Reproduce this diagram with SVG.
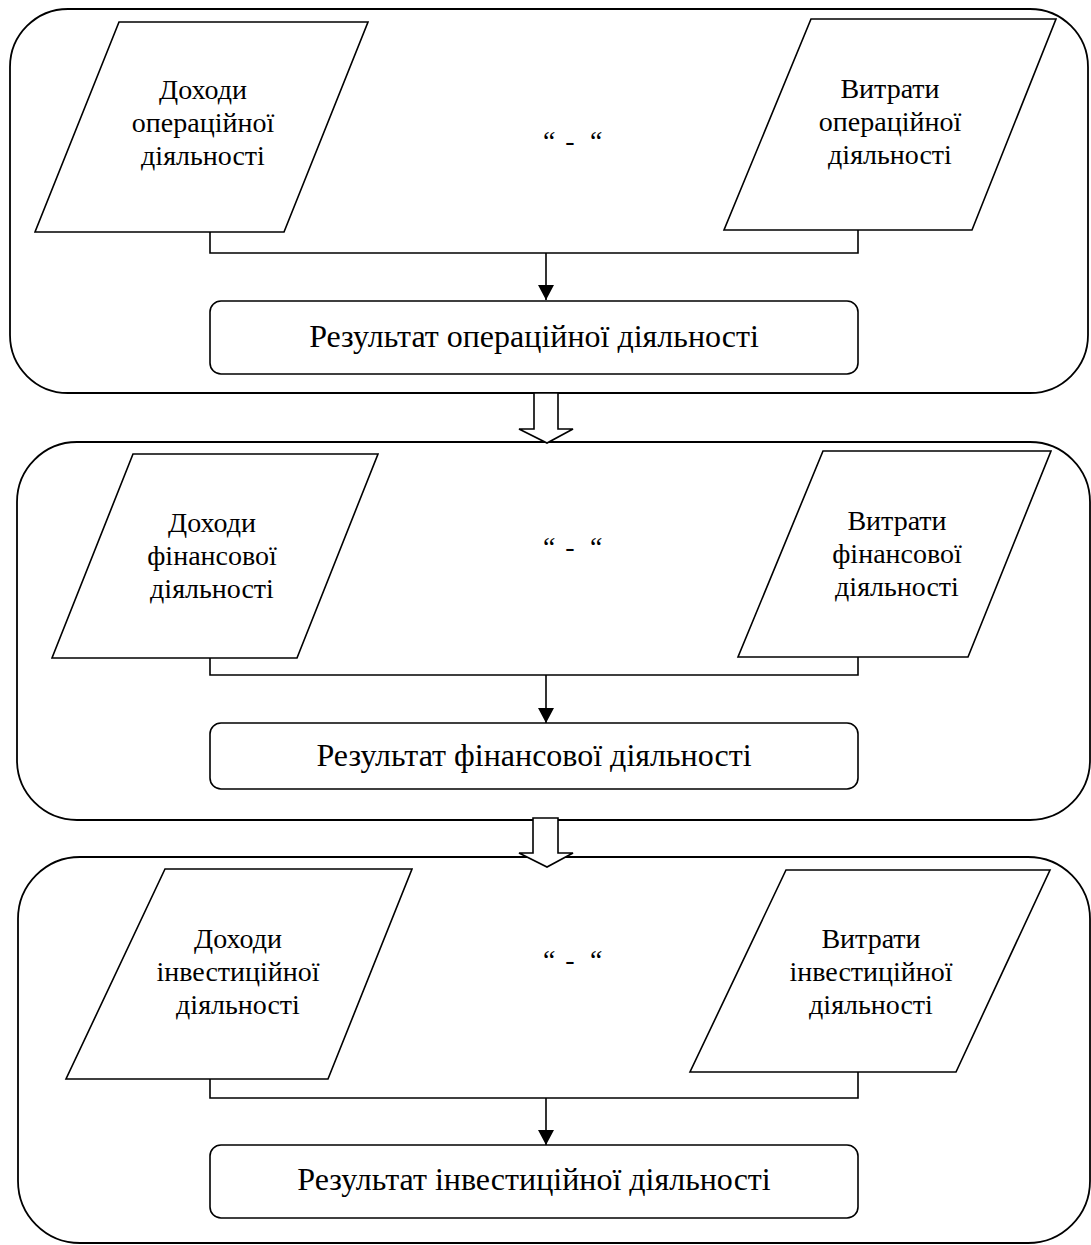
<svg xmlns="http://www.w3.org/2000/svg" width="1091" height="1245" viewBox="0 0 1091 1245">
<defs>
<style>
.cont{fill:none;stroke:#000;stroke-width:1.8}
.para{fill:#fff;stroke:#000;stroke-width:1.6}
.box{fill:#fff;stroke:#000;stroke-width:1.6}
.line{fill:none;stroke:#000;stroke-width:1.6}
.hollow{fill:#fff;stroke:#000;stroke-width:1.6;stroke-linejoin:miter}
.t{font-family:"Liberation Serif","Times New Roman",serif;font-size:28px;fill:#000;text-anchor:middle}
.tb{font-family:"Liberation Serif","Times New Roman",serif;font-size:32px;fill:#000;text-anchor:middle}
.q{font-family:"Liberation Serif","Times New Roman",serif;font-size:28px;font-style:italic;fill:#000;text-anchor:middle}
</style>
<marker id="ah" markerWidth="16" markerHeight="16" refX="15" refY="8" orient="auto" markerUnits="userSpaceOnUse">
<path d="M0,0 L15,8 L0,16 Z" fill="#000"/>
</marker>
</defs>
<rect width="1091" height="1245" fill="#fff"/>

<g id="section1">
<rect id="container1" class="cont" x="10" y="9" width="1078" height="384" rx="58" ry="58"/>
</g>
<g id="section2">
<rect id="container2" class="cont" x="17" y="442" width="1073" height="378" rx="60" ry="60"/>
</g>
<g id="section3">
<rect id="container3" class="cont" x="18" y="857" width="1072" height="386" rx="62" ry="62"/>
</g>

<g id="connectors">
<polyline class="line" points="210,232 210,253 858,253 858,230"/>
<line class="line" x1="546" y1="253" x2="546" y2="300" marker-end="url(#ah)"/>
<polyline class="line" points="210,658 210,675 858,675 858,653"/>
<line class="line" x1="546" y1="675" x2="546" y2="723" marker-end="url(#ah)"/>
<polyline class="line" points="210,1079 210,1098 858,1098 858,1072"/>
<line class="line" x1="546" y1="1098" x2="546" y2="1145" marker-end="url(#ah)"/>
<path class="hollow" d="M534,393 L558,393 L558,429 L573,429 L547,443 L519,429 L534,429 Z"/>
<path class="hollow" d="M533,818 L558,818 L558,853 L573,853 L547,867 L519,853 L533,853 Z"/>
</g>

<g id="income-operating">
<polygon class="para" points="119,22 368,22 284,232 35,232"/>
<text class="t"><tspan x="203" y="99">Доходи</tspan><tspan x="203" y="132">операційної</tspan><tspan x="203" y="165">діяльності</tspan></text>
</g>
<g id="expense-operating">
<polygon class="para" points="811,19 1056,19 972,230 724,230"/>
<text class="t"><tspan x="890" y="98">Витрати</tspan><tspan x="890" y="131">операційної</tspan><tspan x="890" y="164">діяльності</tspan></text>
</g>
<g id="minus1">
<text class="q"><tspan x="548" y="150">“</tspan><tspan x="570" y="150">-</tspan><tspan x="595" y="150">“</tspan></text>
</g>
<g id="result-operating">
<rect class="box" x="210" y="301" width="648" height="73" rx="11" ry="11"/>
<text class="tb" x="534" y="347">Результат операційної діяльності</text>
</g>

<g id="income-financial">
<polygon class="para" points="133,454 378,454 297,658 52,658"/>
<text class="t"><tspan x="212" y="532">Доходи</tspan><tspan x="212" y="565">фінансової</tspan><tspan x="212" y="598">діяльності</tspan></text>
</g>
<g id="expense-financial">
<polygon class="para" points="823,451 1051,451 968,657 738,657"/>
<text class="t"><tspan x="897" y="530">Витрати</tspan><tspan x="897" y="563">фінансової</tspan><tspan x="897" y="596">діяльності</tspan></text>
</g>
<g id="minus2">
<text class="q"><tspan x="548" y="556">“</tspan><tspan x="570" y="556">-</tspan><tspan x="595" y="556">“</tspan></text>
</g>
<g id="result-financial">
<rect class="box" x="210" y="723" width="648" height="66" rx="11" ry="11"/>
<text class="tb" x="534" y="766">Результат фінансової діяльності</text>
</g>

<g id="income-investment">
<polygon class="para" points="165,869 412,869 328,1079 66,1079"/>
<text class="t"><tspan x="238" y="948">Доходи</tspan><tspan x="238" y="981">інвестиційної</tspan><tspan x="238" y="1014">діяльності</tspan></text>
</g>
<g id="expense-investment">
<polygon class="para" points="786,870 1050,870 956,1072 690,1072"/>
<text class="t"><tspan x="871" y="948">Витрати</tspan><tspan x="871" y="981">інвестиційної</tspan><tspan x="871" y="1014">діяльності</tspan></text>
</g>
<g id="minus3">
<text class="q"><tspan x="548" y="969">“</tspan><tspan x="570" y="969">-</tspan><tspan x="595" y="969">“</tspan></text>
</g>
<g id="result-investment">
<rect class="box" x="210" y="1145" width="648" height="73" rx="11" ry="11"/>
<text class="tb" x="534" y="1190">Результат інвестиційної діяльності</text>
</g>
</svg>
